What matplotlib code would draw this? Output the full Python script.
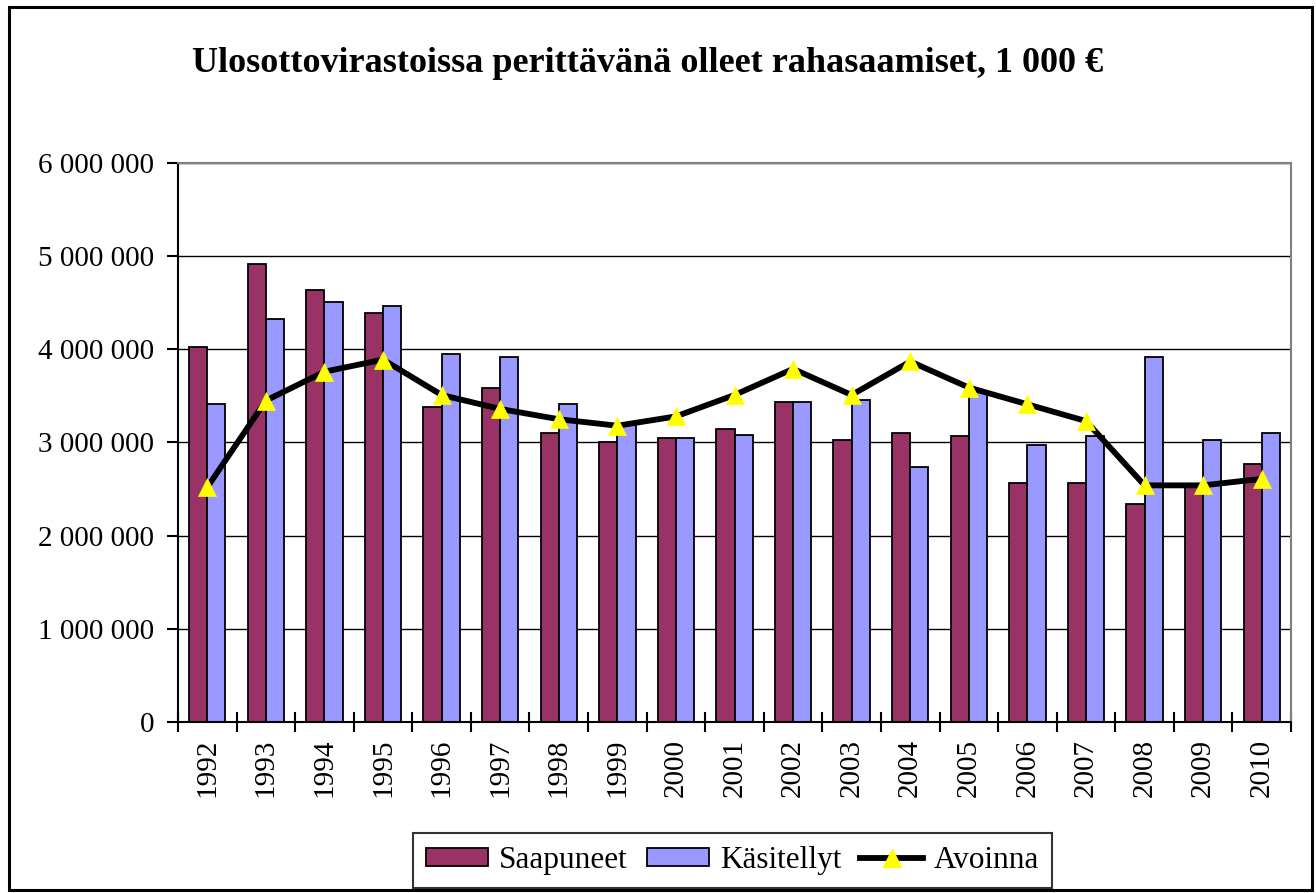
import matplotlib
matplotlib.use("Agg")
import matplotlib.pyplot as plt
import numpy as np
from matplotlib.ticker import FuncFormatter, FixedLocator
from matplotlib.patches import Rectangle
from matplotlib.lines import Line2D
from matplotlib.patches import Patch

plt.rcParams['font.family'] = ['Liberation Serif', 'DejaVu Serif']

years = ["1992", "1993", "1994", "1995", "1996", "1997", "1998", "1999", "2000", "2001",
         "2002", "2003", "2004", "2005", "2006", "2007", "2008", "2009", "2010"]
saapuneet = [4020000, 4920000, 4640000, 4390000, 3380000, 3590000, 3100000, 3000000, 3050000, 3150000,
             3430000, 3030000, 3100000, 3070000, 2560000, 2560000, 2340000, 2550000, 2770000]
kasitellyt = [3410000, 4330000, 4510000, 4460000, 3950000, 3920000, 3410000, 3190000, 3050000, 3080000,
              3430000, 3460000, 2740000, 3550000, 2970000, 3070000, 3920000, 3030000, 3100000]
avoinna = [2520000, 3450000, 3760000, 3890000, 3510000, 3360000, 3250000, 3180000, 3280000, 3510000,
           3790000, 3510000, 3870000, 3590000, 3410000, 3230000, 2540000, 2540000, 2610000]
series_names = ["Saapuneet", "Käsitellyt", "Avoinna"]
title = "Ulosottovirastoissa perittävänä olleet rahasaamiset, 1 000 €"

W, H = 1316, 893
fig = plt.figure(figsize=(W / 100, H / 100), dpi=100)
ax = fig.add_axes([178 / W, 1 - 722 / H, (1291 - 178) / W, (722 - 163) / H])

x = np.arange(len(years))
bw = 0.31
c1, c2 = "#993366", "#9999FF"
ax.bar(x - bw / 2, saapuneet, bw, color=c1, edgecolor="black", linewidth=1.3, zorder=2)
ax.bar(x + bw / 2, kasitellyt, bw, color=c2, edgecolor="black", linewidth=1.3, zorder=2)
ax.plot(x, avoinna, color="black", linewidth=4.2, zorder=3, solid_joinstyle="miter")
ax.plot(x, avoinna, linestyle="none", marker="^", markersize=13, markerfacecolor="#FFFF00",
        markeredgecolor="#FFFF00", markeredgewidth=0.5, zorder=4)

ax.set_xlim(-0.5, len(years) - 0.5)
ax.set_ylim(0, 6000000)
ax.set_yticks(np.arange(0, 6000001, 1000000))
ax.yaxis.set_major_formatter(FuncFormatter(lambda v, p: f"{int(v):,}".replace(",", " ")))
ax.grid(axis="y", color="black", linewidth=1.0, zorder=0)
ax.set_axisbelow(True)

ax.set_xticks(x)
ax.set_xticklabels(years, rotation=90)
ax.xaxis.set_minor_locator(FixedLocator(np.arange(-0.5, len(years), 1.0)))
ax.tick_params(axis="x", which="major", length=0, pad=12, labelsize=21)
ax.tick_params(axis="x", which="minor", direction="inout", length=14, width=1.5)
ax.tick_params(axis="y", which="major", direction="out", length=8, width=1.5, pad=9, labelsize=21)

for s in ["left", "bottom"]:
    ax.spines[s].set_color("black")
    ax.spines[s].set_linewidth(1.5)
for s in ["top", "right"]:
    ax.spines[s].set_color("#808080")
    ax.spines[s].set_linewidth(1.5)

fig.text(0.492, 1 - 64 / H, title, ha="center", va="center", fontsize=26, fontweight="bold")

handles = [Patch(facecolor=c1, edgecolor="black", linewidth=1.3),
           Patch(facecolor=c2, edgecolor="black", linewidth=1.3),
           Line2D([0], [0], color="black", linewidth=4.2, marker="^", markersize=13,
                  markerfacecolor="#FFFF00", markeredgecolor="#FFFF00")]
leg = fig.legend(handles, series_names, loc="center", bbox_to_anchor=(732.5 / W, 1 - 860.5 / H),
                 ncol=3, fontsize=22.5, frameon=True, fancybox=False, edgecolor="black",
                 handlelength=2.0, handleheight=0.55, handletextpad=0.35, columnspacing=0.6,
                 borderpad=0.42, borderaxespad=0)
leg.get_frame().set_linewidth(1.5)

fig.patches.append(Rectangle((9 / W, 1 - 890 / H), (1312 - 9) / W, (890 - 7) / H,
                             transform=fig.transFigure, fill=False, edgecolor="black", linewidth=2.2))

fig.savefig("out.png", dpi=100, facecolor="white")
